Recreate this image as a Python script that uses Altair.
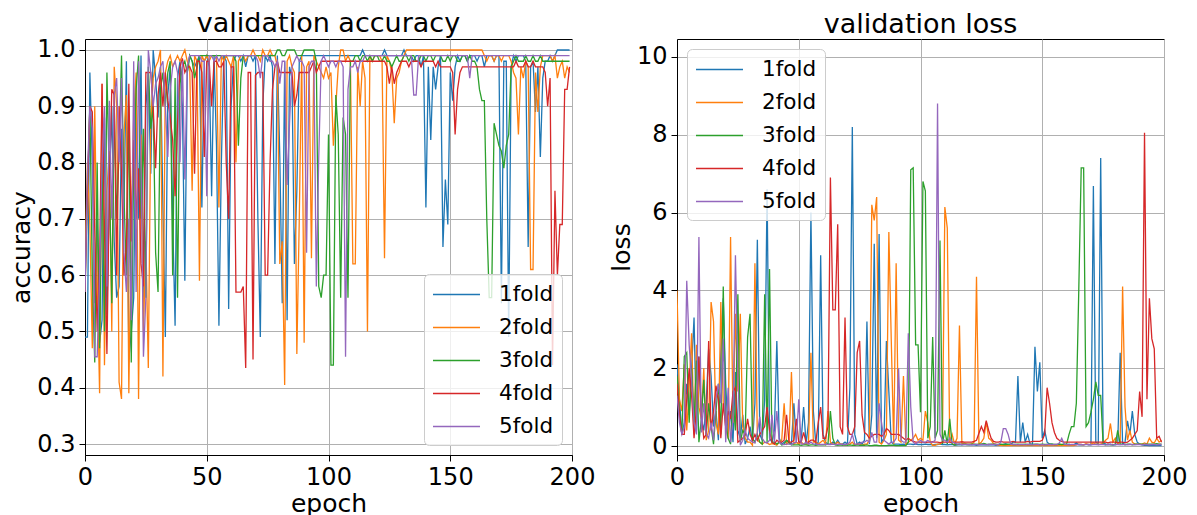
import altair as alt
import pandas as pd

EPOCHS = list(range(200))
FOLDS = ["1fold", "2fold", "3fold", "4fold", "5fold"]
COLORS = ["#1f77b4", "#ff7f0e", "#2ca02c", "#d62728", "#9467bd"]
X_TICKS = [0, 50, 100, 150, 200]
ACC_TICKS = [0.3, 0.4, 0.5, 0.6, 0.7, 0.8, 0.9, 1.0]
LOSS_TICKS = [0, 2, 4, 6, 8, 10]

# ---------------- validation accuracy ----------------
ACC_1 = [
    0.49, 0.49, 0.96, 0.80, 0.55, 0.70, 0.48, 0.52, 0.88, 0.53,
    0.75, 0.90, 0.66, 0.56, 0.58, 0.86, 0.72, 0.98, 0.45, 0.50,
    0.56, 0.93, 0.70, 0.99, 0.56, 0.90, 0.96, 0.78, 1.00, 0.95,
    0.88, 0.97, 0.72, 0.49, 0.92, 0.97, 0.70, 0.51, 0.95, 0.98,
    0.90, 0.59, 0.96, 0.99, 0.98, 0.97, 0.98, 0.99, 0.72, 0.98,
    0.99, 0.97, 0.74, 0.99, 0.83, 0.51, 0.80, 0.99, 0.98, 0.54,
    0.90, 0.98, 0.99, 0.99, 0.98, 0.99, 0.97, 0.99, 0.99, 0.98,
    0.99, 0.70, 0.49, 0.90, 0.99, 0.98, 0.99, 0.97, 0.62, 0.99,
    0.81, 0.55, 0.98, 0.52, 0.97, 0.95, 0.62, 0.75, 0.98, 0.99,
    0.99, 0.99, 0.99, 0.99, 0.99, 0.99, 0.99, 0.99, 0.99, 0.99,
    0.99, 0.99, 0.99, 0.99, 0.99, 0.99, 0.99, 0.99, 0.99, 0.99,
    0.99, 0.99, 0.99, 0.99, 1.00, 0.99, 0.99, 0.99, 0.99, 0.99,
    0.99, 0.99, 0.99, 1.00, 0.99, 0.99, 0.99, 0.99, 0.99, 0.99,
    0.99, 1.00, 0.99, 0.99, 0.99, 0.98, 0.99, 0.99, 0.97, 0.99,
    0.72, 0.97, 0.84, 0.97, 0.93, 0.97, 0.99, 0.65, 0.77, 0.69,
    0.96, 0.91, 0.97, 0.99, 0.98, 0.99, 0.99, 0.98, 0.99, 0.99,
    0.99, 0.98, 0.99, 0.99, 0.97, 0.99, 0.99, 0.99, 0.98, 0.99,
    0.99, 0.55, 0.98, 0.98, 0.49, 0.97, 0.99, 0.98, 0.99, 0.99,
    0.99, 0.98, 0.65, 0.97, 0.98, 0.89, 0.97, 0.81, 0.95, 0.98,
    0.98, 0.99, 0.98, 0.99, 1.00, 1.00, 1.00, 1.00, 1.00, 1.00,
]
ACC_2 = [
    0.62, 0.80, 0.69, 0.47, 0.90, 0.60, 0.39, 0.94, 0.44, 0.75,
    0.82, 0.50, 0.97, 0.90, 0.41, 0.38, 0.85, 0.92, 0.39, 0.70,
    0.88, 0.96, 0.38, 0.85, 0.50, 0.66, 0.435, 0.87, 0.95, 0.97,
    0.98, 1.00, 0.42, 0.96, 0.98, 0.99, 0.97, 0.98, 0.99, 0.98,
    0.99, 1.00, 0.98, 0.97, 0.75, 0.99, 0.98, 0.59, 0.99, 0.98,
    0.99, 0.98, 0.99, 0.99, 0.99, 0.72, 0.99, 0.98, 0.99, 0.98,
    0.97, 0.99, 0.80, 0.98, 0.99, 0.99, 0.98, 0.99, 0.99, 1.00,
    0.99, 0.99, 0.98, 1.00, 0.99, 0.99, 1.00, 0.99, 0.99, 0.97,
    0.62, 0.66, 0.405, 0.98, 0.99, 0.97, 0.96, 0.46, 0.70, 0.99,
    0.48, 0.97, 0.98, 0.63, 0.99, 0.98, 0.97, 0.96, 0.95, 0.97,
    0.95, 0.96, 0.83, 0.90, 0.97, 1.00, 1.00, 0.98, 0.99, 0.98,
    0.62, 0.62, 0.97, 0.90, 0.98, 0.95, 0.50, 0.99, 0.98, 0.99,
    0.99, 0.99, 0.98, 0.63, 0.99, 0.98, 0.96, 0.87, 0.95, 0.96,
    0.98, 0.99, 1.00, 1.00, 1.00, 1.00, 1.00, 1.00, 1.00, 1.00,
    1.00, 1.00, 1.00, 1.00, 1.00, 1.00, 1.00, 1.00, 1.00, 1.00,
    1.00, 1.00, 1.00, 1.00, 1.00, 1.00, 1.00, 1.00, 1.00, 1.00,
    1.00, 1.00, 1.00, 1.00, 0.99, 0.98, 0.99, 0.99, 0.98, 0.99,
    0.99, 0.98, 0.99, 0.99, 0.99, 0.98, 0.96, 0.95, 0.85, 0.97,
    0.95, 0.98, 0.97, 0.61, 0.61, 0.96, 0.89, 0.97, 0.99, 0.99,
    0.99, 0.99, 0.98, 0.99, 0.95, 0.97, 0.98, 0.95, 0.97, 0.96,
]
ACC_3 = [
    0.57, 0.75, 0.90, 0.60, 0.445, 0.80, 0.47, 0.80, 0.50, 0.96,
    0.77, 0.55, 0.90, 0.70, 0.82, 0.99, 0.74, 0.60, 0.90, 0.445,
    0.80, 0.93, 0.99, 0.70, 0.86, 0.56, 0.97, 0.86, 0.90, 0.64,
    0.57, 0.93, 0.96, 0.90, 0.96, 0.98, 0.60, 0.95, 0.56, 0.94,
    0.97, 0.98, 0.96, 0.99, 0.98, 0.95, 0.97, 0.99, 0.99, 0.99,
    0.99, 0.99, 0.99, 0.99, 0.99, 0.99, 0.99, 0.99, 0.99, 0.99,
    0.99, 0.99, 0.98, 0.83, 0.95, 0.99, 0.99, 0.99, 0.99, 0.99,
    0.99, 0.99, 0.99, 0.99, 0.99, 0.99, 0.99, 0.99, 0.99, 1.00,
    1.00, 0.99, 0.99, 1.00, 1.00, 1.00, 1.00, 0.99, 0.99, 0.99,
    1.00, 1.00, 1.00, 1.00, 1.00, 0.98, 0.58, 0.56, 0.60, 0.60,
    0.85, 0.44, 0.44, 0.92, 0.85, 0.56, 0.88, 0.85, 0.56, 0.98,
    0.98, 0.99, 0.99, 0.98, 0.99, 0.99, 0.98, 0.99, 0.98, 0.99,
    0.99, 0.98, 0.98, 0.99, 0.98, 0.98, 0.97, 0.98, 0.99, 0.98,
    0.98, 0.99, 0.99, 0.98, 0.99, 0.99, 0.98, 0.98, 0.99, 0.99,
    0.98, 0.99, 0.99, 0.98, 0.99, 0.99, 0.99, 0.98, 0.98, 0.99,
    0.98, 0.99, 0.99, 0.98, 0.98, 0.99, 0.99, 0.98, 0.99, 0.98,
    0.98, 0.97, 0.93, 0.91, 0.91, 0.70, 0.56, 0.56, 0.87, 0.85,
    0.83, 0.82, 0.79, 0.83, 0.85, 0.97, 0.98, 0.99, 0.98, 0.98,
    0.98, 0.99, 0.98, 0.98, 0.99, 0.98, 0.98, 0.99, 0.98, 0.98,
    0.98, 0.98, 0.98, 0.98, 0.98, 0.98, 0.98, 0.98, 0.98, 0.98,
]
ACC_4 = [
    0.57, 0.75, 0.90, 0.89, 0.68, 0.50, 0.62, 0.94, 0.68, 0.46,
    0.75, 0.93, 0.92, 0.60, 0.90, 0.78, 0.60, 0.65, 0.94, 0.66,
    0.84, 0.70, 0.79, 0.62, 0.58, 0.96, 0.96, 0.96, 0.90, 0.79,
    0.92, 0.96, 0.90, 0.96, 0.91, 0.88, 0.84, 0.74, 0.87, 0.97,
    0.985, 0.96, 0.97, 0.97, 0.96, 0.78, 0.98, 0.98, 0.96, 0.81,
    0.98, 0.98, 0.90, 0.98, 0.98, 0.97, 0.97, 0.98, 0.80, 0.70,
    0.97, 0.97, 0.57, 0.57, 0.57, 0.58, 0.435, 0.96, 0.96, 0.45,
    0.955, 0.96, 0.96, 0.96, 0.60, 0.60, 0.80, 0.93, 0.97, 0.98,
    0.96, 0.96, 0.96, 0.96, 0.96, 0.96, 0.90, 0.92, 0.96, 0.96,
    0.96, 0.96, 0.96, 0.97, 0.98, 0.96, 0.97, 0.98, 0.98, 0.98,
    0.98, 0.98, 0.98, 0.98, 0.98, 0.98, 0.98, 0.98, 0.98, 0.98,
    0.98, 0.98, 0.98, 0.98, 0.98, 0.98, 0.98, 0.98, 0.98, 0.98,
    0.98, 0.98, 0.98, 0.98, 0.97, 0.94, 0.97, 0.94, 0.96, 0.97,
    0.98, 0.98, 0.98, 0.97, 0.98, 0.98, 0.98, 0.98, 0.97, 0.98,
    0.98, 0.98, 0.98, 0.98, 0.97, 0.98, 0.97, 0.97, 0.97, 0.97,
    0.97, 0.96, 0.85, 0.93, 0.96, 0.97, 0.97, 0.97, 0.97, 0.97,
    0.97, 0.97, 0.97, 0.97, 0.97, 0.97, 0.97, 0.97, 0.97, 0.97,
    0.97, 0.97, 0.97, 0.97, 0.97, 0.97, 0.97, 0.98, 0.97, 0.97,
    0.97, 0.98, 0.97, 0.97, 0.98, 0.97, 0.97, 0.97, 0.97, 0.96,
    0.90, 0.95, 0.44, 0.75, 0.60, 0.69, 0.69, 0.93, 0.93, 0.97,
]
ACC_5 = [
    0.57, 0.78, 0.90, 0.86, 0.455, 0.455, 0.60, 0.80, 0.90, 0.58,
    0.91, 0.70, 0.92, 0.95, 0.80, 0.95, 0.64, 0.57, 0.70, 0.52,
    0.98, 0.57, 0.98, 0.80, 0.455, 0.56, 1.00, 0.96, 0.90, 0.94,
    0.95, 0.97, 0.98, 0.90, 0.81, 0.93, 0.97, 0.98, 0.96, 0.80,
    0.98, 0.77, 0.97, 0.99, 0.99, 0.99, 0.99, 0.99, 0.98, 0.98,
    0.74, 0.99, 0.99, 0.98, 0.99, 0.98, 0.99, 0.99, 0.99, 0.99,
    0.99, 0.99, 0.99, 0.99, 0.99, 0.99, 0.99, 0.99, 0.99, 0.99,
    0.99, 0.98, 0.95, 0.99, 0.99, 0.99, 0.98, 0.98, 0.97, 0.98,
    0.94, 0.98, 0.98, 0.76, 0.87, 0.97, 0.98, 0.99, 0.98, 0.98,
    0.97, 0.64, 0.97, 0.98, 0.98, 0.58, 0.81, 0.98, 0.99, 0.98,
    0.97, 0.98, 0.98, 0.97, 0.98, 0.98, 0.97, 0.455, 0.93, 0.97,
    0.97, 0.98, 0.96, 0.98, 0.98, 0.99, 0.99, 0.99, 0.99, 0.99,
    0.99, 0.99, 0.99, 0.99, 0.99, 0.99, 0.99, 0.99, 0.99, 0.99,
    0.99, 0.99, 0.99, 0.99, 0.99, 0.92, 0.92, 0.99, 0.99, 0.99,
    0.99, 0.99, 0.99, 0.99, 0.99, 0.99, 0.99, 0.99, 0.99, 0.99,
    0.99, 0.99, 0.99, 0.99, 0.99, 0.99, 0.99, 0.99, 0.95, 0.99,
    0.99, 0.99, 0.99, 0.99, 0.99, 0.99, 0.99, 0.99, 0.99, 0.99,
    0.99, 0.99, 0.99, 0.99, 0.99, 0.99, 0.99, 0.99, 0.99, 0.99,
    0.99, 0.99, 0.99, 0.99, 0.99, 0.99, 0.99, 0.99, 0.99, 0.99,
    0.99, 0.99, 0.99, 0.99, 0.99, 0.99, 0.99, 0.99, 0.99, 0.99,
]

# ---------------- validation loss ----------------
LOSS_1 = [
    2.1, 1.2, 0.3, 0.6, 1.6, 0.8, 2.0, 3.3, 0.4, 2.3,
    0.7, 0.4, 1.1, 2.5, 1.8, 0.5, 0.9, 0.15, 2.4, 3.8,
    1.6, 0.3, 0.9, 0.1, 1.9, 0.4, 0.2, 0.8, 0.05, 0.2,
    0.5, 0.1, 1.1, 5.3, 0.3, 0.15, 1.2, 6.6, 0.2, 0.1,
    0.4, 2.7, 0.2, 0.05, 0.1, 0.15, 0.1, 0.05, 1.1, 0.1,
    0.05, 0.15, 1.0, 0.05, 0.6, 6.0, 0.9, 0.05, 0.1, 4.9,
    0.3, 0.1, 0.05, 0.05, 0.1, 0.05, 0.15, 0.05, 0.05, 0.1,
    0.05, 1.5, 8.2, 0.3, 0.05, 0.1, 0.05, 0.15, 3.2, 0.05,
    0.8, 5.2, 0.2, 5.45, 0.1, 0.2, 2.7, 1.4, 0.1, 0.05,
    0.05, 0.05, 0.04, 0.05, 0.04, 0.05, 0.05, 0.04, 0.05, 0.04,
    0.04, 0.04, 0.05, 0.04, 0.04, 0.03, 0.04, 0.04, 0.05, 0.04,
    0.04, 0.03, 0.04, 0.04, 0.02, 0.03, 0.04, 0.03, 0.04, 0.04,
    0.03, 0.04, 0.03, 0.02, 0.03, 0.04, 0.03, 0.03, 0.04, 0.03,
    0.03, 0.02, 0.03, 0.03, 0.04, 0.06, 0.03, 0.03, 0.1, 0.1,
    1.8, 0.1, 0.6, 0.1, 0.3, 0.05, 0.05, 2.55, 1.4, 2.15,
    0.2, 0.4, 0.1, 0.05, 0.05, 0.03, 0.03, 0.05, 0.03, 0.03,
    0.03, 0.05, 0.03, 0.03, 0.08, 0.03, 0.03, 0.03, 0.05, 0.03,
    0.03, 6.68, 0.1, 0.05, 7.4, 0.1, 0.05, 0.03, 0.05, 0.03,
    0.03, 0.05, 2.4, 0.05, 0.1, 0.65, 0.3, 0.9, 0.3, 0.1,
    0.05, 0.03, 0.02, 0.02, 0.01, 0.01, 0.01, 0.01, 0.01, 0.01,
]
LOSS_2 = [
    4.0, 1.2, 0.9, 2.1, 0.4, 1.5, 2.9, 0.3, 2.6, 1.0,
    0.7, 2.0, 0.15, 0.4, 3.7, 3.2, 0.6, 0.3, 3.7, 1.1,
    0.5, 0.2, 5.37, 0.6, 3.4, 1.4, 3.4, 0.5, 0.2, 0.1,
    0.1, 0.02, 4.7, 0.15, 0.1, 0.05, 0.1, 0.08, 0.04, 0.06,
    0.05, 0.02, 0.1, 0.15, 1.1, 0.05, 0.1, 1.9, 0.05, 0.1,
    0.05, 0.1, 0.05, 0.05, 0.05, 2.4, 0.1, 0.1, 0.05, 0.1,
    0.15, 0.05, 0.9, 0.1, 0.05, 0.05, 0.1, 0.05, 0.05, 0.02,
    0.05, 0.05, 0.1, 0.02, 0.05, 0.05, 0.02, 0.05, 0.05, 0.15,
    6.2, 5.8, 6.4, 0.1, 0.05, 0.15, 0.3, 5.5, 2.7, 0.05,
    4.7, 0.15, 0.1, 1.8, 0.05, 0.1, 0.15, 0.2, 0.3, 0.15,
    0.2, 0.15, 0.9, 0.6, 0.1, 0.02, 0.02, 0.05, 0.05, 0.1,
    6.14, 5.6, 0.1, 0.3, 0.05, 0.2, 3.1, 0.05, 0.08, 0.05,
    0.05, 0.05, 0.1, 4.35, 0.05, 0.1, 0.2, 0.62, 0.2, 0.15,
    0.06, 0.04, 0.02, 0.02, 0.01, 0.01, 0.01, 0.01, 0.01, 0.01,
    0.01, 0.01, 0.01, 0.01, 0.01, 0.01, 0.01, 0.01, 0.01, 0.01,
    0.01, 0.01, 0.01, 0.01, 0.01, 0.01, 0.01, 0.01, 0.01, 0.01,
    0.01, 0.01, 0.01, 0.01, 0.03, 0.05, 0.04, 0.03, 0.06, 0.04,
    0.05, 0.08, 0.05, 0.05, 0.05, 0.08, 0.15, 0.2, 0.58, 0.1,
    0.2, 0.05, 0.1, 4.1, 1.0, 0.15, 0.4, 0.1, 0.05, 0.05,
    0.05, 0.05, 0.08, 0.05, 0.2, 0.1, 0.08, 0.2, 0.1, 0.15,
]
LOSS_3 = [
    1.8, 0.9, 0.3, 2.3, 2.4, 0.6, 2.0, 0.6, 2.2, 0.1,
    0.7, 1.7, 0.3, 1.1, 0.5, 0.05, 0.9, 1.6, 0.3, 4.1,
    0.6, 0.2, 0.05, 1.2, 0.4, 3.9, 0.1, 0.4, 0.3, 2.8,
    3.4, 0.2, 0.1, 0.3, 0.1, 0.05, 3.9, 0.1, 4.55, 0.1,
    0.1, 0.05, 0.1, 0.03, 0.05, 0.15, 0.08, 0.03, 0.03, 0.03,
    0.03, 0.02, 0.03, 0.03, 0.02, 0.03, 0.03, 0.02, 0.03, 0.03,
    0.03, 0.03, 0.05, 0.9, 0.2, 0.03, 0.02, 0.03, 0.02, 0.03,
    0.02, 0.03, 0.02, 0.02, 0.03, 0.02, 0.02, 0.02, 0.03, 0.01,
    0.01, 0.02, 0.02, 0.01, 0.01, 0.01, 0.01, 0.02, 0.02, 0.02,
    0.01, 0.01, 0.01, 0.01, 0.01, 0.1, 7.1, 7.15, 2.6, 2.6,
    0.87, 6.8, 6.55, 0.2, 0.5, 2.8, 0.2, 0.4, 5.28, 0.05,
    0.4, 0.05, 0.7, 0.05, 0.03, 0.04, 0.05, 0.04, 0.05, 0.04,
    0.04, 0.05, 0.05, 0.04, 0.05, 0.05, 0.07, 0.05, 0.04, 0.05,
    0.05, 0.04, 0.04, 0.05, 0.04, 0.04, 0.05, 0.05, 0.04, 0.04,
    0.05, 0.04, 0.04, 0.05, 0.04, 0.04, 0.04, 0.05, 0.05, 0.04,
    0.05, 0.04, 0.04, 0.05, 0.05, 0.04, 0.04, 0.05, 0.04, 0.05,
    0.05, 0.3, 0.5, 0.5, 1.1, 4.0, 7.15, 7.15, 0.5, 0.6,
    0.87, 1.2, 1.65, 1.3, 1.3, 0.05, 0.03, 0.05, 0.03, 0.03,
    0.05, 0.4, 0.05, 0.05, 0.03, 0.05, 0.05, 0.03, 0.05, 0.05,
    0.05, 0.05, 0.04, 0.05, 0.05, 0.05, 0.05, 0.06, 0.05, 0.05,
]
LOSS_4 = [
    1.6, 0.8, 0.3, 0.3, 1.2, 2.0, 1.3, 0.2, 1.0, 2.3,
    0.8, 0.2, 0.3, 2.7, 0.4, 0.9, 1.55, 1.2, 0.2, 1.1,
    0.5, 0.9, 0.7, 1.4, 1.5, 0.1, 0.15, 0.2, 0.3, 0.7,
    0.3, 0.15, 0.3, 0.15, 0.3, 0.4, 0.5, 1.0, 0.4, 0.1,
    0.05, 0.15, 0.1, 0.1, 0.15, 0.8, 0.1, 0.1, 0.15, 0.7,
    0.1, 0.1, 0.35, 0.1, 0.1, 0.15, 0.15, 0.1, 0.6, 1.0,
    0.2, 0.2, 0.5, 6.9, 3.5, 3.5, 5.7, 0.5, 0.3, 3.3,
    0.5, 0.3, 0.3, 0.5, 2.4, 2.7, 0.8, 0.35, 0.3, 0.2,
    0.25, 0.3, 0.3, 0.3, 0.25, 0.3, 0.45, 0.4, 0.3, 0.3,
    0.3, 0.3, 0.25, 0.2, 0.15, 0.2, 0.15, 0.12, 0.1, 0.1,
    0.1, 0.1, 0.09, 0.1, 0.1, 0.11, 0.1, 0.1, 0.09, 0.1,
    0.1, 0.1, 0.1, 0.09, 0.1, 0.1, 0.1, 0.11, 0.1, 0.1,
    0.1, 0.1, 0.12, 0.15, 0.33, 0.5, 0.35, 0.65, 0.4, 0.2,
    0.12, 0.1, 0.1, 0.12, 0.1, 0.1, 0.1, 0.1, 0.12, 0.1,
    0.1, 0.1, 0.1, 0.1, 0.12, 0.1, 0.12, 0.12, 0.12, 0.12,
    0.15, 0.3, 1.5, 1.1, 0.6, 0.35, 0.2, 0.15, 0.12, 0.1,
    0.1, 0.1, 0.1, 0.1, 0.1, 0.1, 0.1, 0.1, 0.1, 0.1,
    0.1, 0.1, 0.1, 0.1, 0.1, 0.1, 0.1, 0.08, 0.1, 0.1,
    0.1, 0.08, 0.1, 0.1, 0.08, 0.1, 0.15, 0.2, 0.3, 0.4,
    1.4, 0.75, 8.05, 1.2, 3.8, 2.76, 2.5, 0.2, 0.25, 0.1,
]
LOSS_5 = [
    1.3, 0.6, 0.3, 0.5, 4.25, 2.6, 1.7, 0.6, 0.3, 5.37,
    0.35, 1.1, 0.3, 0.2, 0.6, 0.15, 1.2, 1.6, 1.1, 2.76,
    0.1, 1.5, 0.1, 0.7, 4.9, 1.8, 0.02, 0.15, 0.4, 0.2,
    0.15, 0.1, 0.08, 0.35, 0.75, 0.2, 0.1, 0.08, 0.15, 0.8,
    0.1, 0.9, 0.1, 0.05, 0.04, 0.05, 0.05, 0.04, 0.08, 0.1,
    1.2, 0.05, 0.05, 0.1, 0.05, 0.1, 0.05, 0.05, 0.04, 0.04,
    0.04, 0.05, 0.04, 0.04, 0.05, 0.04, 0.04, 0.05, 0.04, 0.04,
    0.05, 0.1, 0.3, 0.05, 0.05, 0.05, 0.1, 0.1, 0.15, 0.1,
    0.35, 0.1, 0.1, 1.1, 0.6, 0.15, 0.1, 0.05, 0.1, 0.1,
    0.2, 2.0, 0.15, 0.1, 0.1, 2.9, 1.0, 0.1, 0.05, 0.1,
    0.15, 0.1, 0.1, 0.15, 0.1, 0.1, 0.15, 8.8, 0.3, 0.15,
    0.15, 0.1, 0.2, 0.1, 0.08, 0.05, 0.05, 0.04, 0.04, 0.04,
    0.04, 0.03, 0.04, 0.04, 0.03, 0.04, 0.04, 0.03, 0.04, 0.04,
    0.04, 0.04, 0.03, 0.1, 0.45, 0.45, 0.3, 0.05, 0.04, 0.04,
    0.03, 0.04, 0.04, 0.03, 0.04, 0.04, 0.03, 0.04, 0.04, 0.03,
    0.04, 0.03, 0.04, 0.04, 0.03, 0.04, 0.04, 0.08, 0.2, 0.05,
    0.04, 0.03, 0.04, 0.04, 0.03, 0.04, 0.04, 0.03, 0.04, 0.04,
    0.03, 0.04, 0.04, 0.03, 0.04, 0.04, 0.03, 0.04, 0.04, 0.03,
    0.04, 0.04, 0.03, 0.04, 0.04, 0.03, 0.04, 0.04, 0.03, 0.04,
    0.04, 0.03, 0.04, 0.04, 0.03, 0.04, 0.04, 0.03, 0.04, 0.04,
]

ACC = [ACC_1, ACC_2, ACC_3, ACC_4, ACC_5]
LOSS = [LOSS_1, LOSS_2, LOSS_3, LOSS_4, LOSS_5]


def to_long(series_list):
    rows = []
    for fold, vals in zip(FOLDS, series_list):
        assert len(vals) == len(EPOCHS), (fold, len(vals))
        for e, v in zip(EPOCHS, vals):
            rows.append({"epoch": e, "value": v, "fold": fold})
    return pd.DataFrame(rows)


FONT = "DejaVu Sans"


def panel(df, title, ytitle, ydomain, yticks, fmt, orient):
    return (
        alt.Chart(df)
        .mark_line(strokeWidth=1.3, clip=True)
        .encode(
            x=alt.X(
                "epoch:Q",
                scale=alt.Scale(domain=[0, 200], nice=False, zero=False),
                axis=alt.Axis(values=X_TICKS, title="epoch", format="d", labelFlush=False),
            ),
            y=alt.Y(
                "value:Q",
                scale=alt.Scale(domain=ydomain, nice=False, zero=False),
                axis=alt.Axis(values=yticks, title=ytitle, format=fmt),
            ),
            color=alt.Color(
                "fold:N",
                scale=alt.Scale(domain=FOLDS, range=COLORS),
                legend=alt.Legend(
                    orient=orient,
                    title=None,
                    offset=10,
                    fillColor="rgba(255,255,255,0.8)",
                    strokeColor="#cccccc",
                    cornerRadius=5,
                    padding=8,
                    symbolType="M-2,0H2",
                    symbolSize=552,
                    symbolOffset=12,
                    symbolStrokeWidth=1.5,
                    symbolFillColor="transparent",
                    labelFontSize=21.5,
                    labelFont=FONT,
                    labelColor="black",
                    labelOffset=30,
                    rowPadding=10,
                ),
            ),
            order=alt.Order("epoch:Q"),
        )
        .properties(
            width=487,
            height=416,
            title=alt.TitleParams(title, fontSize=27, font=FONT, fontWeight="normal", color="black", offset=0),
        )
    )


left = panel(to_long(ACC), "validation accuracy", "accuracy", [0.2805, 1.0195], ACC_TICKS, ".1f", "bottom-right")
right = panel(to_long(LOSS), "validation loss", "loss", [-0.23, 10.46], LOSS_TICKS, "d", "top-left")

chart = (
    alt.hconcat(left, right, spacing=12)
    .resolve_scale(x="independent", y="independent", color="shared")
    .resolve_legend(color="independent")
    .configure_view(stroke="black", strokeWidth=1)
    .configure_axis(
        labelFont=FONT,
        titleFont=FONT,
        labelFontSize=24,
        titleFontSize=25,
        labelColor="black",
        titleColor="black",
        titleFontWeight="normal",
        domainColor="black",
        tickColor="black",
        tickSize=6,
        labelPadding=4,
        titlePadding=2,
        gridColor="#b0b0b0",
        gridWidth=1,
    )
    .properties(padding={"left": 1, "top": 1, "right": 0, "bottom": 0})
)

chart.save("out.html", embed_options={"renderer": "svg", "actions": False})
